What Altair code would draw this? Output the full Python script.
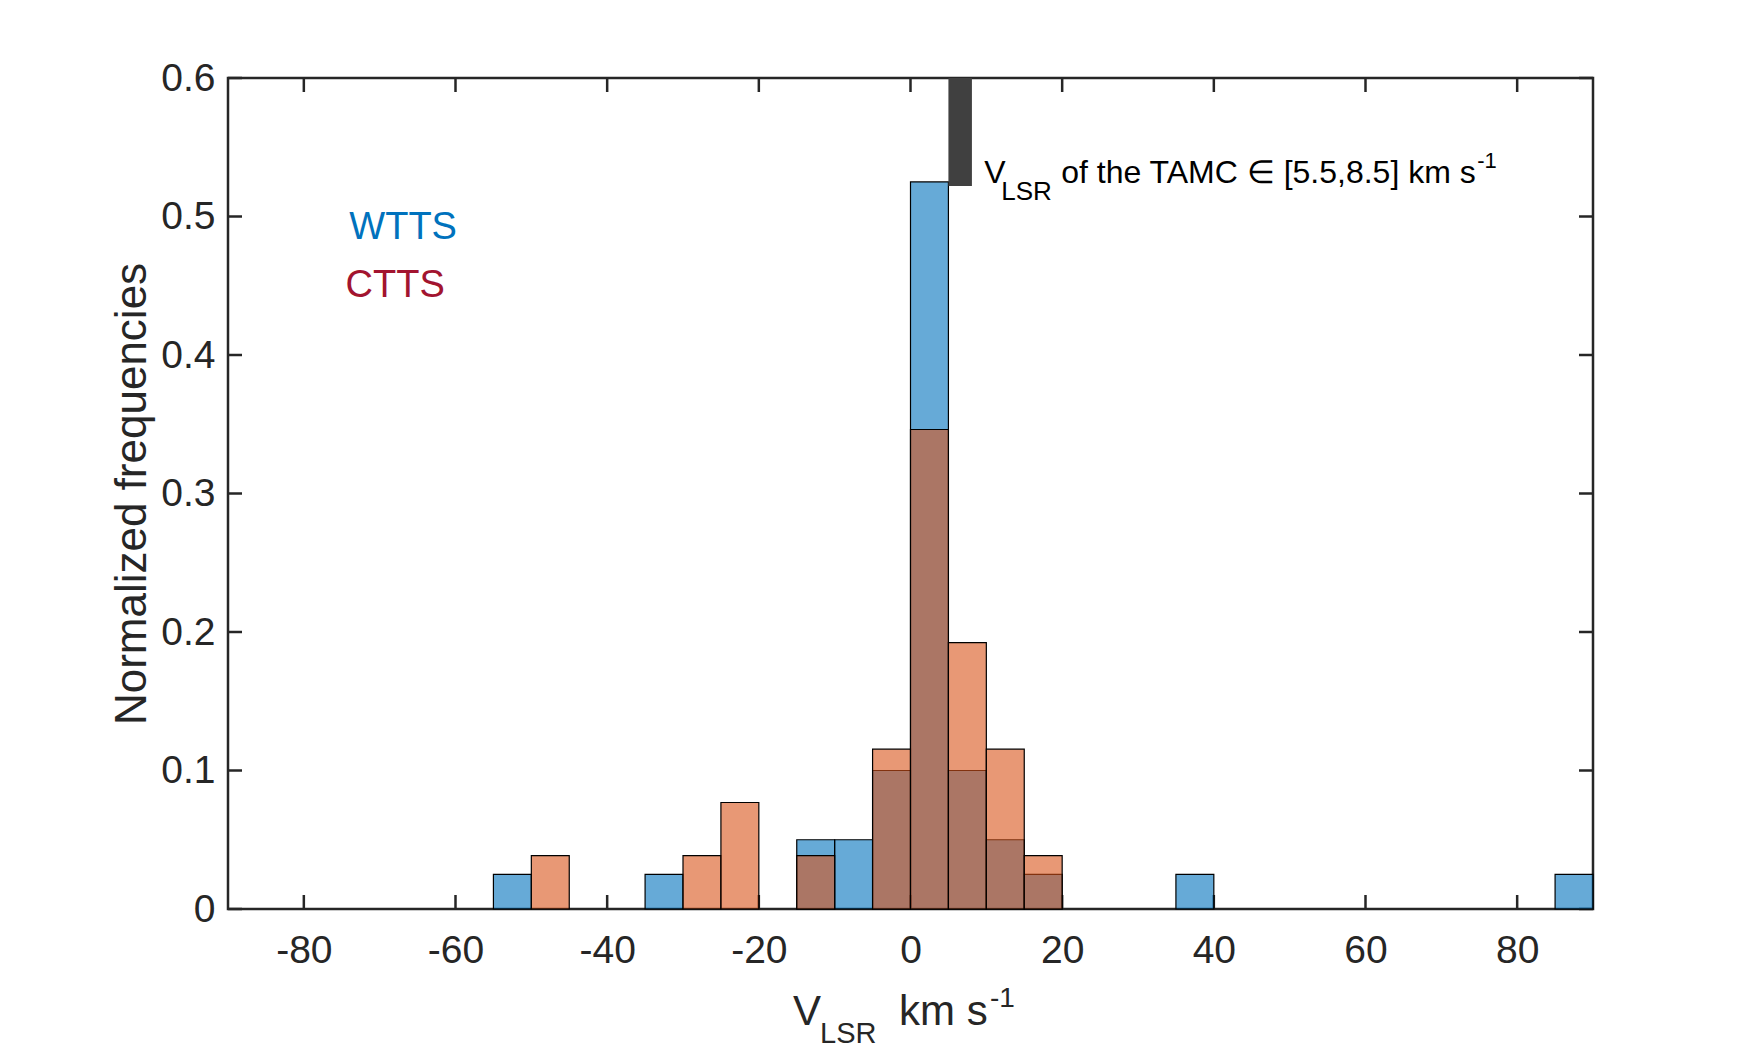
import altair as alt
import pandas as pd

# ---- data ----
bin_width = 5
wtts_left = [-55, -35, -15, -10, -5, 0, 5, 10, 15, 35, 85]
wtts_freq = [0.025, 0.025, 0.05, 0.05, 0.1, 0.525, 0.1, 0.05, 0.025, 0.025, 0.025]
ctts_left = [-50, -30, -25, -15, -5, 0, 5, 10, 15]
ctts_freq = [0.0385, 0.0385, 0.0769, 0.0385, 0.1154, 0.3462, 0.1923, 0.1154, 0.0385]
tamc_x = [5.0, 8.1]
tamc_y = [0.522, 0.6]
x_ticks = [-80, -60, -40, -20, 0, 20, 40, 60, 80]
y_ticks = [0, 0.1, 0.2, 0.3, 0.4, 0.5, 0.6]
legend_labels = ["WTTS", "CTTS"]
legend_x = [-74.0, -74.5]
legend_y = [0.484, 0.442]
annot_x = [8.4]
annot_y = [0.524]

W, H = 1365, 831
FONT = "Liberation Sans"
AX = "#262626"

df_w = pd.DataFrame({"x": wtts_left, "f": wtts_freq})
df_w["x2"] = df_w["x"] + bin_width
df_w["b"] = 0.0
df_c = pd.DataFrame({"x": ctts_left, "f": ctts_freq})
df_c["x2"] = df_c["x"] + bin_width
df_c["b"] = 0.0
df_t = pd.DataFrame({"x": [tamc_x[0]], "x2": [tamc_x[1]], "f": [tamc_y[0]], "b": [tamc_y[1]]})
df_xt = pd.DataFrame({"x": x_ticks})
df_yt = pd.DataFrame({"f": y_ticks})
df_leg = pd.DataFrame({"label": legend_labels, "x": legend_x, "f": legend_y})
df_an = pd.DataFrame({"x": annot_x, "f": annot_y})

xs = alt.Scale(domain=[-90, 90], nice=False, zero=False)
ys = alt.Scale(domain=[0, 0.6], nice=False)
x_axis = alt.Axis(values=x_ticks, labelExpr="datum.value + ''", title=None,
                  domain=False, ticks=False, tickSize=0, grid=False,
                  labelFontSize=39, labelColor=AX, labelPadding=22, labelFont=FONT)
y_axis = alt.Axis(values=y_ticks,
                  labelExpr="datum.value == 0 ? '0' : format(datum.value, '.1f')",
                  title="Normalized frequencies", titleFontSize=44, titleColor=AX,
                  titleFont=FONT, titleFontWeight="normal", titleAngle=270,
                  titleX=-83, titleY=H / 2, titleBaseline="alphabetic", titleAlign="center",
                  domain=False, ticks=False, tickSize=0, grid=False,
                  labelFontSize=39, labelColor=AX, labelPadding=13, labelFont=FONT)

X = lambda f="x": alt.X(f"{f}:Q", scale=xs, axis=x_axis)
Y = lambda f="f": alt.Y(f"{f}:Q", scale=ys, axis=y_axis)

# inward ticks
tb = alt.Chart(df_xt).mark_rule(color=AX, strokeWidth=2.5).encode(
    x=X(), y=alt.value(H), y2=alt.value(H - 14))
tt = alt.Chart(df_xt).mark_rule(color=AX, strokeWidth=2.5).encode(
    x=X(), y=alt.value(0), y2=alt.value(14))
tl = alt.Chart(df_yt).mark_rule(color=AX, strokeWidth=2.5).encode(
    y=Y(), x=alt.value(0), x2=alt.value(14))
tr = alt.Chart(df_yt).mark_rule(color=AX, strokeWidth=2.5).encode(
    y=Y(), x=alt.value(W), x2=alt.value(W - 14))

bars_w = alt.Chart(df_w).mark_rect(fill="#0072BD", fillOpacity=0.6, stroke="black",
                                   strokeWidth=1.2).encode(
    x=X(), x2="x2:Q", y=Y(), y2="b:Q")
bars_c = alt.Chart(df_c).mark_rect(fill="#D95319", fillOpacity=0.6, stroke="black",
                                   strokeWidth=1.2).encode(
    x=X(), x2="x2:Q", y=Y(), y2="b:Q")
tamc = alt.Chart(df_t).mark_rect(fill="#404040").encode(
    x=X(), x2="x2:Q", y=Y(), y2="b:Q")

leg_w = alt.Chart(df_leg[df_leg.label == "WTTS"]).mark_text(
    font=FONT, fontSize=38, color="#0072BD", align="left", baseline="alphabetic").encode(
    x=X(), y=Y(), text="label:N")
leg_c = alt.Chart(df_leg[df_leg.label == "CTTS"]).mark_text(
    font=FONT, fontSize=38, color="#A2142F", align="left", baseline="alphabetic").encode(
    x=X(), y=Y(), text="label:N")

def ann(txt, size, dx, dy):
    return alt.Chart(df_an).mark_text(font=FONT, fontSize=size, color="black",
                                      align="left", baseline="alphabetic",
                                      dx=dx, dy=dy, text=txt).encode(x=X(), y=Y())

an1 = ann("V", 32, 10, 0)
an2 = ann("LSR", 26, 27, 17)
an3 = ann("of the TAMC \u2208 [5.5,8.5] km s", 32, 87, 0)
an4 = ann("-1", 22, 503, -15)

def xt(txt, size, px, py):
    return alt.Chart(df_an).mark_text(font=FONT, fontSize=size, color=AX, align="left",
                                      baseline="alphabetic", text=txt).encode(
        x=alt.value(px), y=alt.value(py))

xt1 = xt("V", 42, 565, 947)
xt2 = xt("LSR", 29, 592, 965)
xt3 = xt("km s", 42, 671, 947)
xt4 = xt("-1", 28, 762, 929)

chart = alt.layer(
    tb, tt, tl, tr, bars_w, bars_c, tamc, leg_w, leg_c,
    an1, an2, an3, an4, xt1, xt2, xt3, xt4
).properties(
    width=W, height=H,
    padding={"left": 220, "top": 70, "right": 159, "bottom": 141},
    autosize=alt.AutoSizeParams(type="none"),
    background="white",
).configure(
    font=FONT,
    view=alt.ViewConfig(stroke=AX, strokeWidth=2.5),
)

chart.save("out.html", embed_options={"renderer": "svg", "actions": False})
